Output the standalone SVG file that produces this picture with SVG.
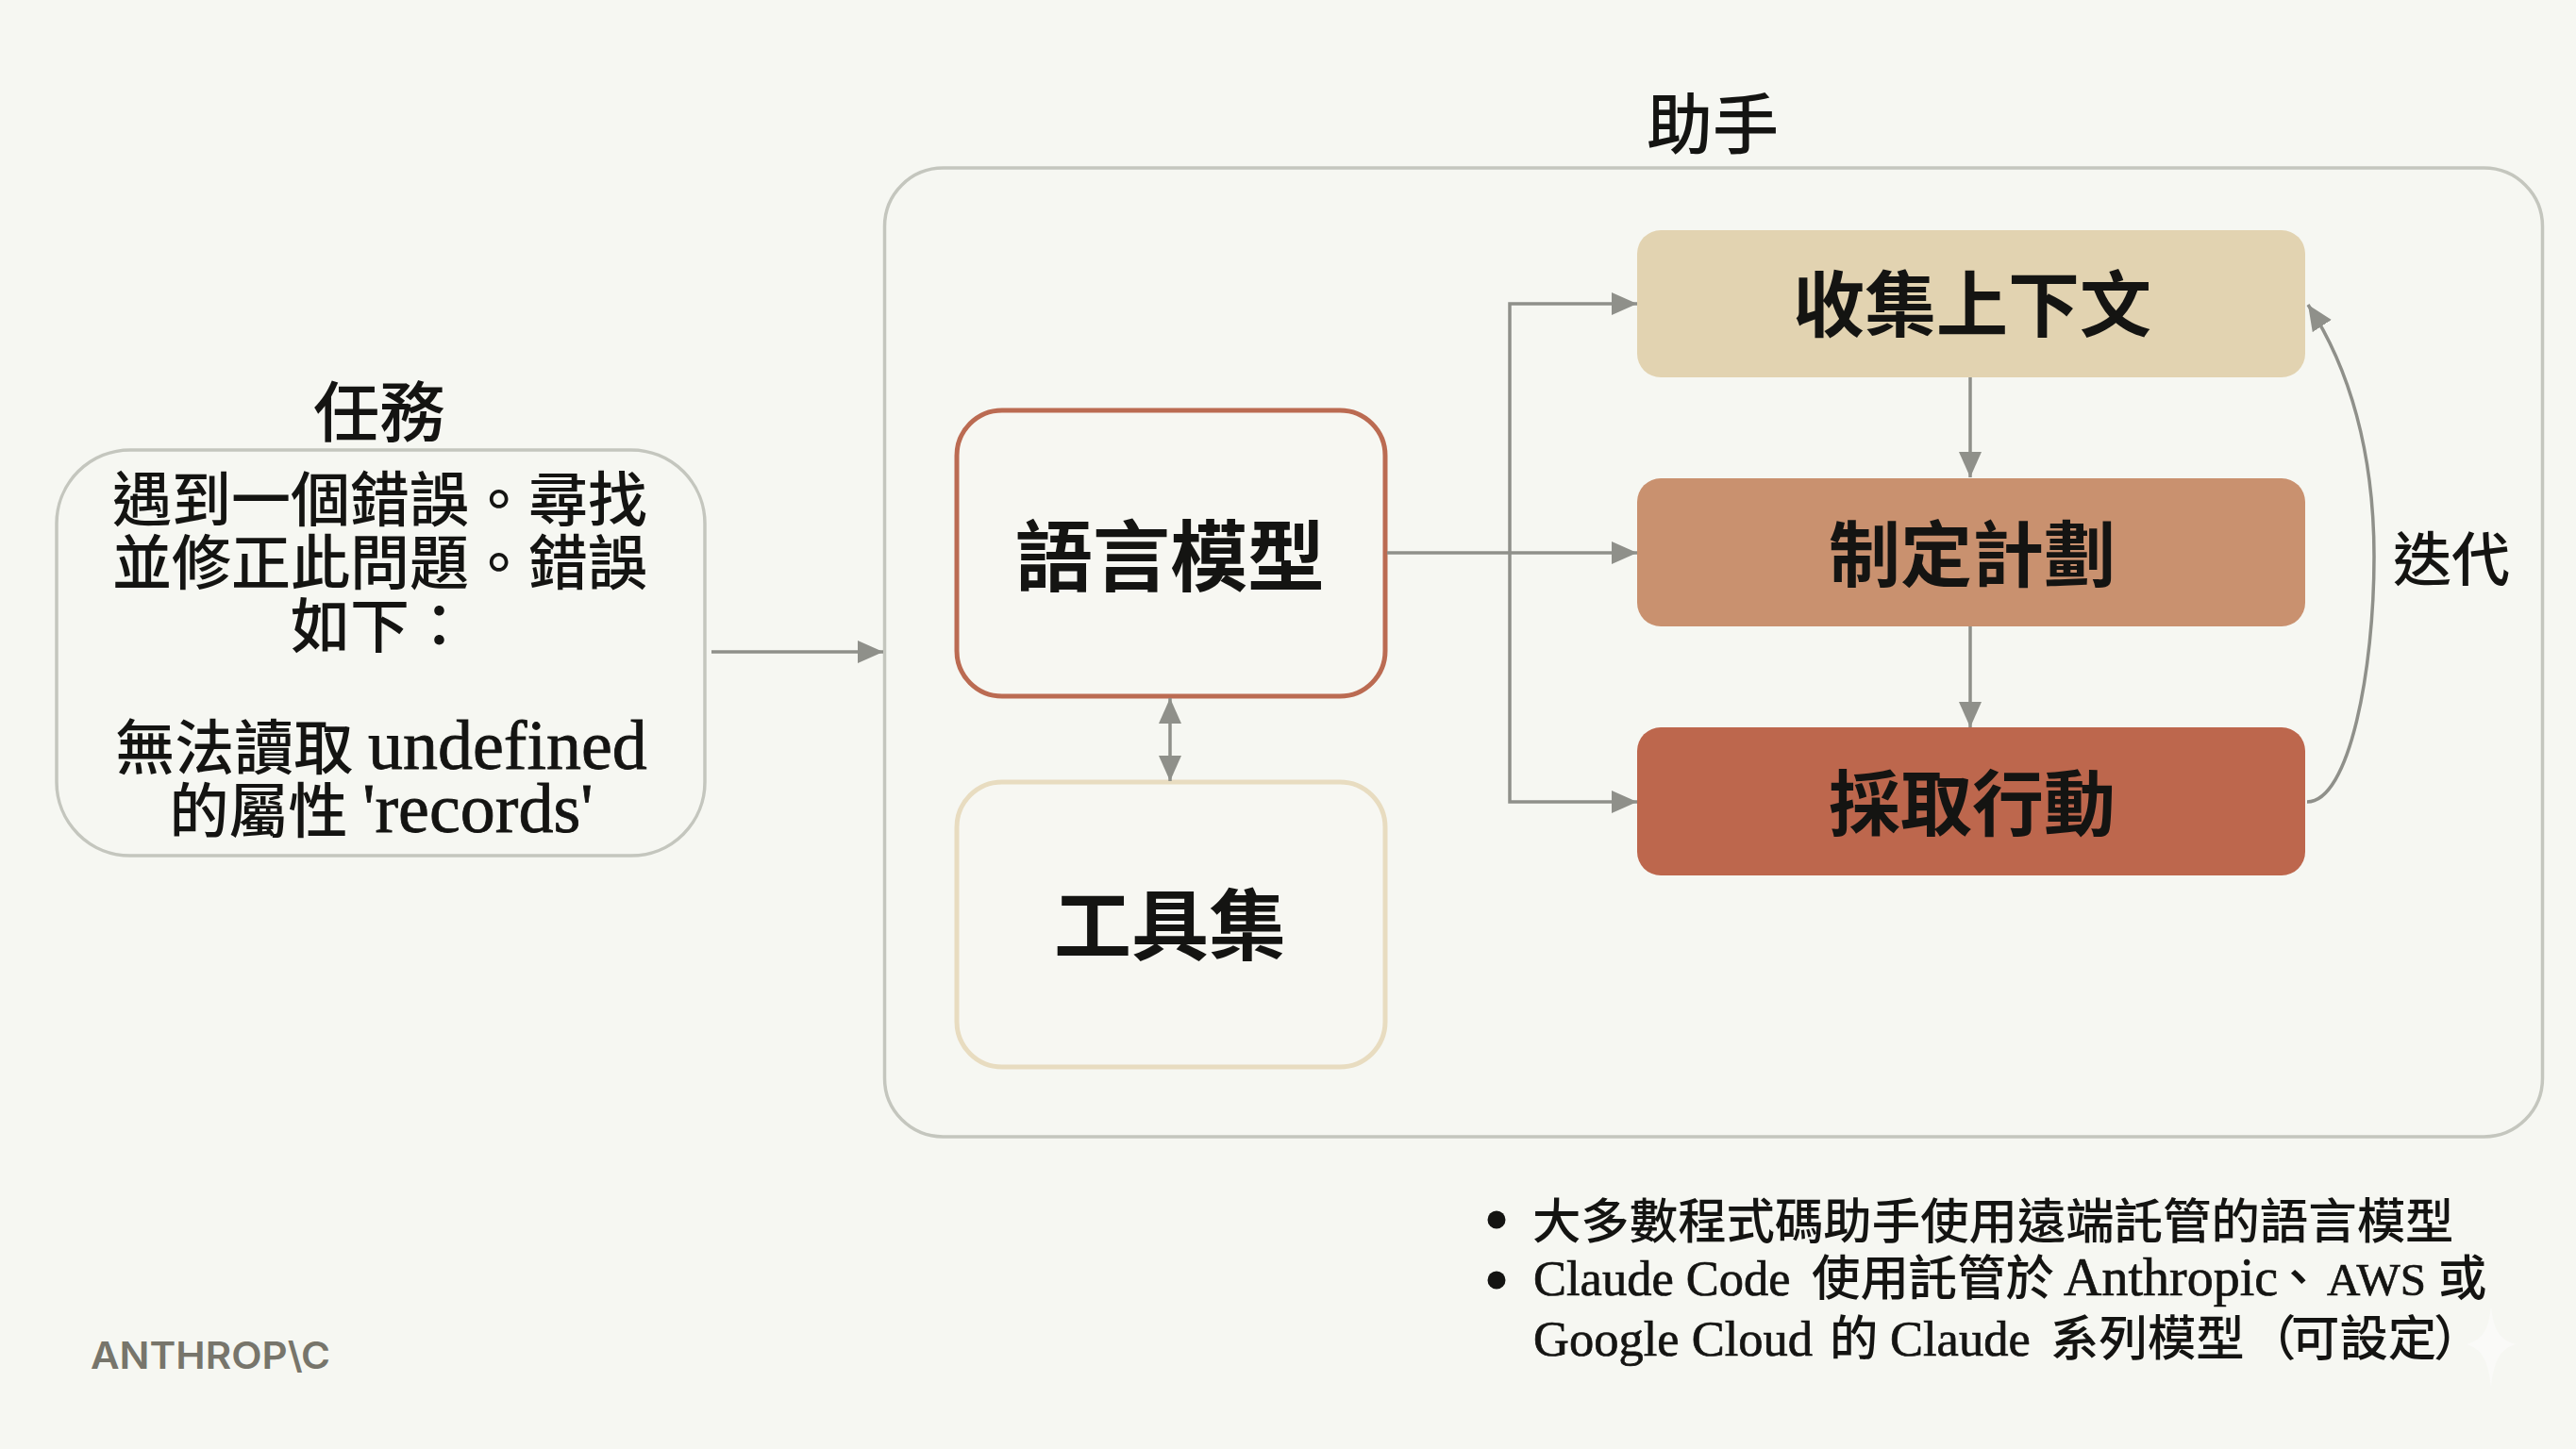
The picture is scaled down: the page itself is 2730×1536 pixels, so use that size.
<svg xmlns="http://www.w3.org/2000/svg" width="2730" height="1536" viewBox="0 0 2730 1536">
<style>
text{font-family:"Liberation Serif","Noto Sans CJK TC","Noto Sans CJK SC",sans-serif;fill:#141412;text-anchor:middle}
.title{font-size:70px;font-weight:500}
.body{font-size:63px;font-weight:500}
.lat{font-size:74px;font-weight:400;stroke:#141412;stroke-width:.8}
.node{font-size:76px;font-weight:700}
.big{font-size:82px;font-weight:700}
.bul{font-size:51.400px;font-weight:500;text-anchor:start}
.bl{font-size:52.500px;font-weight:400;stroke:#141412;stroke-width:.7}
.conn{fill:none;stroke:#8f908a;stroke-width:3.500}
.frame{fill:none;stroke:#c4c6be;stroke-width:3.500}
</style>
<defs>
<marker id="arrow" markerUnits="userSpaceOnUse" markerWidth="28" markerHeight="26" refX="27" refY="12" orient="auto-start-reverse"><path d="M0 0L27 12L0 24Z" fill="#8f908a"/></marker>
</defs>
<rect width="2730" height="1536" fill="#f6f7f2"/>
<g id="assistant">
<rect class="frame" x="937.500" y="178" width="1757" height="1027" rx="62"/>
<text class="title" x="1815" y="158">助手</text>
</g>
<g id="task">
<text class="title" x="402" y="463">任務</text>
<rect class="frame" x="60" y="477" width="687" height="430" rx="78"/>
<text class="body" x="402.500" y="552">遇到一個錯誤。尋找</text>
<text class="body" x="402.500" y="619">並修正此問題。錯誤</text>
<text class="body" x="402.500" y="686">如下：</text>
<text class="body" x="404" y="815">無法讀取 <tspan class="lat">undefined</tspan></text>
<text class="body" x="404" y="882">的屬性 <tspan class="lat">'records'</tspan></text>
</g>
<g id="language-model">
<rect x="1014" y="435" width="454" height="303" rx="48" fill="#f7f7f2" stroke="#bb6b52" stroke-width="5"/>
<text class="big" x="1240" y="620">語言模型</text>
</g>
<g id="tools">
<rect x="1014" y="829" width="454" height="302" rx="48" fill="#f7f7f2" stroke="#e8dcc0" stroke-width="5"/>
<text class="big" x="1240" y="1011">工具集</text>
</g>
<g id="gather-context">
<rect x="1735" y="244" width="708" height="156" rx="25" fill="#e2d3b1"/>
<text class="node" x="2090" y="351">收集上下文</text>
</g>
<g id="make-plan">
<rect x="1735" y="507" width="708" height="157" rx="25" fill="#c9916f"/>
<text class="node" x="2090" y="616">制定計劃</text>
</g>
<g id="take-action">
<rect x="1735" y="771" width="708" height="157" rx="25" fill="#bd674d"/>
<text class="node" x="2090" y="880">採取行動</text>
</g>
<g id="connectors">
<path class="conn" marker-end="url(#arrow)" d="M754 691H936"/>
<path class="conn" marker-end="url(#arrow)" d="M1470 586H1735"/>
<path class="conn" marker-end="url(#arrow)" d="M1600 586V322H1735"/>
<path class="conn" marker-end="url(#arrow)" d="M1600 586V850H1735"/>
<path class="conn" marker-end="url(#arrow)" d="M2088 400V506"/>
<path class="conn" marker-end="url(#arrow)" d="M2088 664V771"/>
<path class="conn" marker-start="url(#arrow)" marker-end="url(#arrow)" d="M1240 740V828"/>
<path class="conn" marker-end="url(#arrow)" d="M2445 850C2490 850 2516 710 2516 590C2516 480 2490 390 2446 323"/>
</g>
<g id="iterate-label"><text class="title" style="font-size:62px" x="2598" y="616">迭代</text></g>
<g id="notes">
<circle cx="1586" cy="1293" r="9.500" fill="#141412"/>
<circle cx="1586" cy="1357" r="9.500" fill="#141412"/>
<text class="bul" x="1624" y="1313">大多數程式碼助手使用遠端託管的語言模型</text>
<text class="bul" y="1373"><tspan class="bl" x="1625">Claude Code</tspan><tspan x="1920">使用託管於</tspan><tspan class="bl" style="font-size:56px" x="2187">Anthropic</tspan><tspan x="2410">、</tspan><tspan class="bl" style="font-size:49px" x="2466">AWS</tspan><tspan x="2584">或</tspan></text>
<text class="bul" y="1437"><tspan class="bl" x="1625">Google Cloud</tspan><tspan x="1939">的</tspan><tspan class="bl" x="2003">Claude</tspan><tspan x="2173">系列模型</tspan><tspan x="2382">（</tspan><tspan x="2428">可設定</tspan><tspan x="2579">）</tspan></text>
</g>
<g id="logo"><text x="96" y="1451" textLength="254" lengthAdjust="spacingAndGlyphs" style="font-family:'Inter','Liberation Sans',sans-serif;font-size:39px;font-weight:600;fill:#77756b;text-anchor:start">ANTHROP\C</text></g>
<path d="M2640 1385C2643 1412 2650 1420 2666 1425C2650 1430 2643 1442 2640 1470C2637 1442 2630 1430 2614 1425C2630 1420 2637 1412 2640 1385Z" fill="#fafaf8"/>
</svg>
